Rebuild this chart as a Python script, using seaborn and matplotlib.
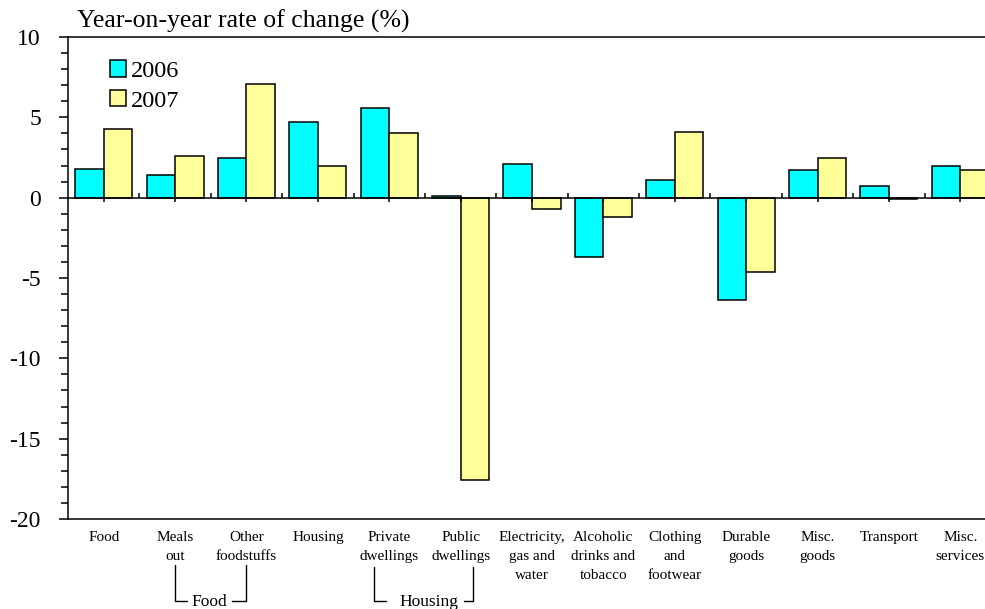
import matplotlib
matplotlib.use("Agg")
import matplotlib.pyplot as plt
import matplotlib.transforms as mtransforms
import seaborn as sns
import pandas as pd

categories = ["Food", "Meals\nout", "Other\nfoodstuffs", "Housing", "Private\ndwellings",
              "Public\ndwellings", "Electricity,\ngas and\nwater", "Alcoholic\ndrinks and\ntobacco",
              "Clothing\nand\nfootwear", "Durable\ngoods", "Misc.\ngoods", "Transport", "Misc.\nservices"]
values_2006 = [1.8, 1.4, 2.5, 4.7, 5.6, 0.1, 2.1, -3.7, 1.1, -6.4, 1.7, 0.7, 2.0]
values_2007 = [4.3, 2.6, 7.1, 2.0, 4.0, -17.6, -0.7, -1.2, 4.1, -4.6, 2.5, -0.1, 1.7]
years = ["2006", "2007"]
colors = ["#00FFFF", "#FFFF99"]
title = "Year-on-year rate of change (%)"
yticks = [10, 5, 0, -5, -10, -15, -20]

df = pd.DataFrame({
    "category": categories * 2,
    "value": values_2006 + values_2007,
    "year": [years[0]] * len(categories) + [years[1]] * len(categories),
})

sns.set_theme(style="white")
plt.rcParams["font.family"] = ["Liberation Serif", "DejaVu Serif"]
plt.rcParams["text.color"] = "black"
plt.rcParams["xtick.color"] = "black"
plt.rcParams["ytick.color"] = "black"
plt.rcParams["axes.labelcolor"] = "black"

W, H = 985, 609
fig = plt.figure(figsize=(W / 100, H / 100), dpi=100)
ax = fig.add_axes([68 / W, (H - 519) / H, 928 / W, 482 / H])

sns.barplot(data=df, x="category", y="value", hue="year", order=categories,
            hue_order=years, palette=colors, saturation=1, edgecolor="black",
            linewidth=1.1, width=0.8, ax=ax)

ax.set_xlim(-0.5, len(categories) - 0.5)
ax.set_ylim(-20, 10)
ax.set_yticks(yticks)
ax.set_yticklabels([str(t) for t in yticks], fontsize=17)
ax.set_yticks(range(-20, 11), minor=True)
ax.tick_params(axis="y", which="major", direction="out", length=6.5, width=1.1,
               pad=13, color="black", left=True)
ax.tick_params(axis="y", which="minor", direction="out", length=5, width=1.1,
               color="black", left=True)
ax.set_xticks(range(len(categories)))
ax.set_xticklabels([""] * len(categories))
ax.tick_params(axis="x", length=0)
ax.set_xlabel("")
ax.set_ylabel("")

for side in ["left", "top", "bottom"]:
    ax.spines[side].set_visible(True)
    ax.spines[side].set_color("black")
    ax.spines[side].set_linewidth(1.1)
ax.spines["right"].set_visible(False)

# zero line and its small ticks
ax.axhline(0, color="black", lw=1.1, zorder=3)
n = len(categories)
ax.vlines([i for i in range(n)], -0.28, 0, color="black", lw=1.1, zorder=3)
ax.vlines([i + 0.5 for i in range(n - 1)], 0, 0.3, color="black", lw=1.1, zorder=3)

# legend
handles, labels = ax.get_legend_handles_labels()
ax.legend(handles, labels, loc="upper left", bbox_to_anchor=(0.0457, 0.952),
          frameon=False, fontsize=17.5, handlelength=0.66, handleheight=0.66,
          handletextpad=0.2, labelspacing=0.33, borderpad=0, borderaxespad=0)

# title
fig.text(77 / W, 1 - 28 / H, title, fontsize=18.5, ha="left", va="baseline")

tr = mtransforms.blended_transform_factory(ax.transData, fig.transFigure)
def py(p):
    return 1 - p / H

# category labels
for i, cat in enumerate(categories):
    ax.text(i, py(531), cat, transform=tr, ha="center", va="top", fontsize=11,
            linespacing=1.58, multialignment="center")

# group brackets below the axis
def bracket(x0, x1, label, y_top, y_bot, gap_l, gap_r, xc):
    ax.plot([x0, x0, x0 + gap_l], [py(y_top), py(y_bot), py(y_bot)], transform=tr,
            color="black", lw=1.0, clip_on=False)
    ax.plot([x1 - gap_r, x1, x1], [py(y_bot), py(y_bot), py(y_top)], transform=tr,
            color="black", lw=1.0, clip_on=False)
    ax.text(xc, py(y_bot + 1), label, transform=tr, ha="center", va="center",
            fontsize=12.5)

bracket(1, 2, "Food", 565, 601, 0.17, 0.2, 1.48)
bracket(3.78, 5.17, "Housing", 567, 601, 0.18, 0.12, 4.55)

fig.savefig("out.png", dpi=100)
